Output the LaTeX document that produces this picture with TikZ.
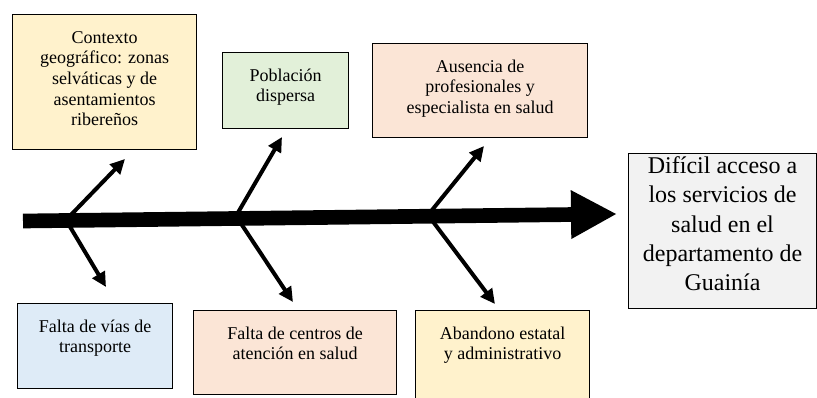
\documentclass[tikz,border=0pt]{standalone}
\usepackage{fontspec}
\setmainfont{Liberation Serif}
\usepackage{xcolor}
\usetikzlibrary{arrows.meta}
\definecolor{causaAmarillo}{RGB}{255, 242, 204}
\definecolor{causaVerde}{RGB}{226, 240, 217}
\definecolor{causaSalmon}{RGB}{251, 229, 214}
\definecolor{causaAzul}{RGB}{222, 235, 247}
\definecolor{efectoGris}{RGB}{242, 242, 242}
% text block aligned to the top of each box
\newcommand{\celda}[4]{\parbox[c][#2][t]{#1}{\centering\rule{0pt}{#3}#4}}

\begin{document}
\begin{tikzpicture}[x=0.75pt, y=-0.75pt]
            \tikzstyle{causa} = [draw=black, line width=0.8pt, inner sep=0pt, anchor=north west, font=\fontsize{13.5}{15.5}\selectfont]
            \tikzstyle{efecto} = [causa, fill=efectoGris, font=\fontsize{18}{22}\selectfont]
            \tikzstyle{espina} = [-{Triangle[length=34.5pt, width=34pt]}, line width=11pt, black]
            \tikzstyle{rama} = [-{Triangle[length=11pt, width=10.5pt]}, line width=3pt, black]

            \useasboundingbox (0,0) rectangle (817,397);
            \clip (0,0) rectangle (817,397);
            \fill[white] (0,0) rectangle (817,397);

            % causes above the spine
            \node[causa, fill=causaAmarillo] (contexto) at (12,14) {\celda{138pt}{101.25pt}{21.5pt}{Contexto\\geográfico: zonas\\selváticas y de\\asentamientos\\ribereños}};
            \node[causa, fill=causaVerde] (poblacion) at (222,52) {\celda{94.5pt}{57pt}{21.5pt}{Población\\dispersa}};
            \node[causa, fill=causaSalmon] (ausencia) at (372,43) {\celda{161.25pt}{70.5pt}{21.5pt}{Ausencia de\\profesionales y\\especialista en salud}};

            % causes below the spine
            \node[causa, fill=causaAzul] (vias) at (17,303) {\celda{116.25pt}{63.75pt}{21.5pt}{Falta de vías de\\transporte}};
            \node[causa, fill=causaSalmon] (centros) at (193,310) {\celda{152.25pt}{63pt}{21.5pt}{Falta de centros de\\atención en salud}};
            \node[causa, fill=causaAmarillo] (abandono) at (415,310) {\celda{130.5pt}{67.5pt}{21.5pt}{Abandono estatal\\y administrativo}};

            % effect
            \node[efecto] (acceso) at (628,153) {\celda{141pt}{116.25pt}{15pt}{Difícil acceso a\\los servicios de\\salud en el\\departamento de\\Guainía}};

            % spine and branch points
            \coordinate (cola) at (23,221);
            \coordinate (punta) at (617,214);
            \coordinate (j1) at (66,220);
            \coordinate (j2) at (236,216);
            \coordinate (j3) at (428,215);
            \coordinate (t1) at (125,159);
            \coordinate (t2) at (282,137);
            \coordinate (t3) at (484,146);
            \coordinate (b1) at (106,287);
            \coordinate (b2) at (293,302);
            \coordinate (b3) at (495,304);

            \draw[espina] (cola) -- (punta);
            \draw[rama] (j1) -- (t1);
            \draw[rama] (j1) -- (b1);
            \draw[rama] (j2) -- (t2);
            \draw[rama] (j2) -- (b2);
            \draw[rama] (j3) -- (t3);
            \draw[rama] (j3) -- (b3);
        \end{tikzpicture}
\end{document}
